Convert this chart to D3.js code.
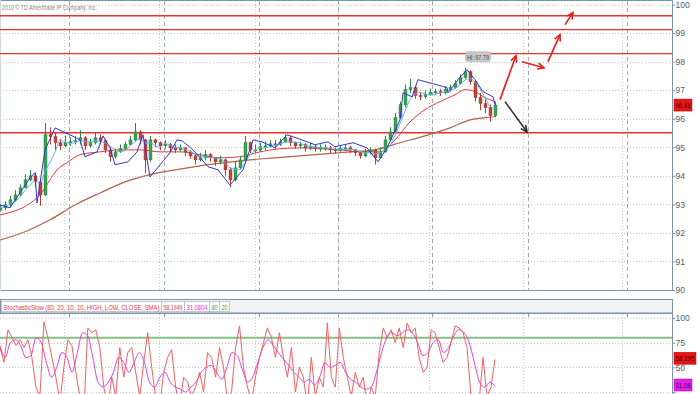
<!DOCTYPE html>
<html><head><meta charset="utf-8">
<script src="https://cdn.jsdelivr.net/npm/d3@7"></script>
<style>
body{margin:0;background:#fff}
svg{display:block}
text{font-family:"Liberation Sans Narrow","Liberation Sans",Arial,sans-serif}
</style>
</head><body>
<svg id="c" width="700" height="394"></svg>
<script>
// ---------- DATA ----------
const firstOpen = 92.8;
const closes = [
92.88,92.98,93.16,93.33,93.58,93.86,94.00,93.79,93.33,95.44,
95.37,95.16,95.05,95.16,95.19,95.23,95.33,95.05,95.16,95.33,
95.23,94.91,94.67,94.84,94.95,95.09,95.26,95.54,95.26,94.56,
95.26,95.16,95.05,95.09,94.98,94.91,94.98,94.84,94.70,94.56,
94.63,94.74,94.63,94.49,94.56,94.21,93.86,94.28,94.56,95.16,
94.91,94.91,95.02,95.05,95.12,95.09,95.19,95.33,95.16,95.05,
95.09,94.98,95.02,94.95,94.98,94.98,94.91,94.88,94.95,94.98,
94.91,94.81,94.70,94.84,94.91,94.63,94.84,95.26,95.54,96.04,
96.49,97.02,97.09,96.81,96.77,96.84,96.91,96.95,96.91,97.02,
97.09,97.23,97.44,97.65,97.30,96.74,96.53,96.39,96.11,96.48];
const highs = [
93.00,93.10,93.30,93.50,93.70,94.05,94.20,94.10,93.90,95.85,
95.70,95.50,95.30,95.40,95.35,95.40,95.60,95.40,95.30,95.50,
95.45,95.30,95.00,94.95,95.10,95.20,95.40,95.85,95.60,95.30,
95.40,95.30,95.20,95.25,95.15,95.10,95.10,95.00,94.90,94.75,
94.80,94.90,94.80,94.65,94.70,94.60,94.30,94.50,94.70,95.40,
95.20,95.10,95.15,95.20,95.25,95.25,95.30,95.45,95.40,95.20,
95.20,95.15,95.15,95.10,95.10,95.10,95.05,95.00,95.05,95.10,
95.05,94.95,94.85,94.95,95.00,94.95,95.00,95.40,95.70,96.20,
96.60,97.20,97.40,97.15,96.95,97.00,97.05,97.05,97.05,97.15,
97.20,97.35,97.55,97.79,97.70,97.35,96.90,96.70,96.50,96.60];
const lows = [
92.75,92.80,92.90,93.10,93.30,93.60,93.80,93.60,92.95,93.30,
95.10,94.90,94.90,95.00,95.05,95.10,95.10,94.90,95.00,95.10,
95.10,94.80,94.50,94.60,94.80,94.90,95.10,95.20,95.10,94.10,
94.50,95.00,94.90,94.95,94.85,94.80,94.85,94.70,94.60,94.40,
94.50,94.55,94.50,94.35,94.40,94.00,93.60,93.80,94.20,94.50,
94.80,94.80,94.85,94.90,95.00,94.95,95.05,95.15,95.05,94.95,
94.95,94.85,94.90,94.85,94.85,94.88,94.80,94.78,94.85,94.88,
94.80,94.70,94.60,94.65,94.75,94.40,94.60,94.80,95.20,95.50,
96.00,96.40,96.90,96.70,96.65,96.70,96.80,96.85,96.80,96.85,
96.95,97.05,97.20,97.40,97.20,96.60,96.30,96.20,95.90,96.05];
// moving averages: [bar, price]
const maRed = [[0,92.63],[7,93.17],[8,93.33],[10,93.86],[11.4,94.21],[13.4,94.46],[16,94.74],[20,94.84],[24,94.91],[28,94.91],[32,94.84],[36,94.84],[40,94.74],[44,94.63],[48,94.67],[52,94.84],[56,94.95],[60,94.98],[64,94.95],[68,94.91],[72,94.84],[76,94.84],[79,95.26],[82,95.89],[85,96.32],[88,96.60],[91,96.84],[93,97.02],[95,96.95],[97,96.74],[99,96.60]];
const maBrown = [[0,91.75],[5,92.04],[10,92.46],[15,92.98],[20,93.40],[25,93.79],[30,94.04],[35,94.21],[40,94.35],[45,94.46],[50,94.56],[55,94.63],[60,94.70],[65,94.77],[70,94.84],[75,94.91],[80,95.16],[85,95.40],[90,95.68],[94,95.96],[97,96.04],[99,96.07]];
const bandBlue = [[0,92.98],[2,92.88],[6,93.93],[7,94.11],[7.4,93.05],[9,94.91],[11,95.68],[14,95.44],[16,95.26],[17,94.67],[19.4,94.84],[20.6,95.40],[22,94.98],[23,94.39],[25.6,94.49],[27.4,94.84],[28.6,95.44],[30,93.96],[34,94.81],[35.4,95.26],[36.4,95.23],[38.6,94.91],[40.4,94.56],[41.6,94.32],[43.6,94.21],[46,93.68],[48.6,94.21],[50.6,95.26],[52.4,95.19],[55,94.98],[57.4,95.44],[60.4,95.26],[63,95.09],[65.6,95.19],[67,95.02],[70.6,95.16],[73.4,94.98],[75.6,94.49],[77.4,94.98],[80,95.96],[80.6,96.91],[82.4,96.77],[83.6,97.37],[89.4,97.09],[89.6,96.91],[91.6,97.37],[93.4,97.72],[95,97.37],[96.6,96.95],[98.6,96.77],[99,96.49]];
const levelLines = [99.61, 99.12, 98.28, 95.51];
const priceTicks = [90,91,92,93,94,95,96,97,98,99,100];
const stochTicks = [100,75,50,25];
const stochTickLabels = ["100","75","50",""];
const stochLevels = [80,20];
const stochK = [70,55,88,80,72,78,70,78,60,30,20,96,80,60,40,15,50,78,72,45,20,5,90,85,88,70,30,10,40,20,70,40,65,70,45,20,55,85,50,20,10,45,60,68,30,10,40,35,20,30,45,25,65,60,40,70,50,15,25,70,92,50,30,15,40,60,75,90,80,60,85,60,40,70,25,50,40,10,60,20,40,30,95,40,30,90,60,40,20,45,30,40,10,30,20,65,90,80,88,75,90,70,95,85,90,60,45,50,88,85,70,55,60,75,92,90,85,70,20,10,15,60,20,30,58];
const stochD = [72,60,75,78,72,60,62,80,75,55,40,50,65,60,45,65,85,82,60,35,30,35,45,60,55,45,55,65,55,35,30,40,45,35,30,28,25,30,35,45,50,52,45,38,50,65,62,48,35,40,55,70,78,72,65,58,52,45,40,35,38,32,40,55,50,52,55,45,38,35,30,28,30,45,65,80,85,82,85,88,85,75,62,65,75,78,65,70,82,88,85,75,55,35,30,35,31];
const gridDotted = [12.8,31.8,51,67.6,85.8,104.6,124.4];
const gridDashed = [13.8,32.8,51.8,67.6,86.4,105.6,125.4];
// annotation arrows: [[bar,price],[bar,price]]
const redArrows = [[[100,96.67],[103.2,98.21]],[[104.4,98.0],[108.8,97.79]],[[109.6,98.0],[112,98.95]],[[113,99.30],[114.6,99.72]]];
const blackArrows = [[[101,96.60],[105.4,95.54]]];
const lastK = "58.1949", lastD = "31.0804";
const headerText = "StochasticSlow (80, 20, 10, 10, HIGH, LOW, CLOSE, SMA)";
const copyright = "2010 \u00A9 TD Ameritrade IP Company, Inc.";

// ---------- DRAW ----------
const plotR = 672;
const svg = d3.select('#c');
const x = d3.scaleLinear().domain([0,134.4]).range([0,plotR]);
const y = d3.scaleLinear().domain([90,100]).range([290,4.6]);
const ys = d3.scaleLinear().domain([0,100]).range([416.7,318]);
const axisCol = '#7f93a8', gridCol = '#c3cad4', dashCol = '#a3abb6', lblCol = '#4d6079';

// text squeezed horizontally to a target width (anchor: 'start' | 'middle')
function fitText(parent, str, px, py, w, size, col, anchor){
  const t = parent.append('text').attr('x',0).attr('y',0).attr('font-size',size).attr('fill',col)
    .attr('text-anchor',anchor||'start').text(str);
  const n = t.node().getComputedTextLength();
  const k = Math.min(1, w/n);
  t.attr('transform',`translate(${px},${py}) scale(${k},1)`);
  return t;
}

const defs = svg.append('defs');
defs.append('clipPath').attr('id','cp').append('rect').attr('x',0).attr('y',1).attr('width',plotR).attr('height',289.5);
defs.append('clipPath').attr('id','cs').append('rect').attr('x',0).attr('y',314).attr('width',plotR).attr('height',80);

// price panel grid
const gP = svg.append('g');
gP.selectAll('.hg').data(priceTicks).join('line')
  .attr('x1',0).attr('x2',plotR).attr('y1',d=>Math.round(y(d))+0.5).attr('y2',d=>Math.round(y(d))+0.5)
  .attr('stroke',gridCol).attr('stroke-dasharray','1,2');
gP.selectAll('.vd').data(gridDotted).join('line')
  .attr('x1',d=>Math.round(x(d))+0.5).attr('x2',d=>Math.round(x(d))+0.5).attr('y1',1).attr('y2',290)
  .attr('stroke',gridCol).attr('stroke-dasharray','1,2');
gP.selectAll('.vh').data(gridDashed).join('line')
  .attr('x1',d=>Math.round(x(d))+0.5).attr('x2',d=>Math.round(x(d))+0.5).attr('y1',1).attr('y2',290)
  .attr('stroke',dashCol).attr('stroke-dasharray','4,3');

// frame
svg.append('line').attr('x1',0).attr('x2',plotR).attr('y1',0.5).attr('y2',0.5).attr('stroke',axisCol);
svg.append('line').attr('x1',0).attr('x2',plotR).attr('y1',290.5).attr('y2',290.5).attr('stroke',axisCol);
svg.append('line').attr('x1',0.5).attr('x2',0.5).attr('y1',0).attr('y2',291).attr('stroke','#d0d6de');
svg.append('line').attr('x1',plotR+0.5).attr('x2',plotR+0.5).attr('y1',0).attr('y2',291).attr('stroke',axisCol);

// right price axis
const ax = d3.axisRight(y).tickValues(priceTicks).tickSize(3).tickFormat(d3.format('d'));
const axG = svg.append('g').attr('transform',`translate(${plotR+0.5},0)`).call(ax);
axG.select('.domain').remove();
axG.selectAll('line').attr('stroke',axisCol);
axG.selectAll('text').attr('fill',lblCol).attr('font-size',8.5).attr('x',3);

fitText(svg, copyright, 2, 10, 95, 8, '#8a8a8a');

const gC = svg.append('g').attr('clip-path','url(#cp)');
// level lines
gC.selectAll('.lvl').data(levelLines).join('line')
  .attr('x1',0).attr('x2',plotR).attr('y1',d=>y(d)).attr('y2',d=>y(d))
  .attr('stroke','#e23232').attr('stroke-width',1.3);

gC.append('path').attr('d',d3.line().x(d=>x(d[0])).y(d=>y(d[1])).curve(d3.curveMonotoneX)(maBrown)).attr('fill','none').attr('stroke','#b0654a').attr('stroke-width',1.2);
gC.append('path').attr('d',d3.line().x(d=>x(d[0])).y(d=>y(d[1])).curve(d3.curveMonotoneX)(maRed)).attr('fill','none').attr('stroke','#e43c3c').attr('stroke-width',1);

// candles
const bars = closes.map((c,i)=>{
  const o = i===0 ? firstOpen : closes[i-1];
  return {i, o, c, h: Math.max(highs[i],o,c), l: Math.min(lows[i],o,c)};
});
const cg = gC.append('g');
cg.selectAll('.wk').data(bars).join('line')
  .attr('x1',d=>Math.round(x(d.i))+0.5).attr('x2',d=>Math.round(x(d.i))+0.5)
  .attr('y1',d=>y(d.h)).attr('y2',d=>y(d.l))
  .attr('stroke',d=>d.c>=d.o?'#2b8a3c':'#c0392b').attr('stroke-width',1);
cg.selectAll('.bd').data(bars).join('rect')
  .attr('x',d=>Math.round(x(d.i))-1).attr('width',3)
  .attr('y',d=>y(Math.max(d.o,d.c))).attr('height',d=>Math.max(1,Math.abs(y(d.o)-y(d.c))))
  .attr('fill',d=>d.c>=d.o?'#3aa550':'#c8453a').attr('stroke',d=>d.c>=d.o?'#1f6e2e':'#8e2a22').attr('stroke-width',0.4);

// short average of closes (light blue)
const sma = closes.map((c,i)=>[i, d3.mean(closes.slice(Math.max(0,i-3),i+1))]);
gC.append('path').attr('d',d3.line().x(d=>x(d[0])).y(d=>y(d[1])).curve(d3.curveMonotoneX)(sma)).attr('fill','none').attr('stroke','#58b8ea').attr('stroke-width',1);
// blue band
gC.append('path').attr('d',d3.line().x(d=>x(d[0])).y(d=>y(d[1]))(bandBlue)).attr('fill','none').attr('stroke','#3434d6').attr('stroke-width',1);

// arrows
function arrow(g,a,col){
  const x1=x(a[0][0]),y1=y(a[0][1]),x2=x(a[1][0]),y2=y(a[1][1]);
  const ang=Math.atan2(y2-y1,x2-x1), L=7, s=0.45;
  const p=[[x2-L*Math.cos(ang-s),y2-L*Math.sin(ang-s)],[x2,y2],[x2-L*Math.cos(ang+s),y2-L*Math.sin(ang+s)]];
  g.append('line').attr('x1',x1).attr('y1',y1).attr('x2',x2).attr('y2',y2).attr('stroke',col).attr('stroke-width',1.6);
  g.append('path').attr('d',d3.line()(p)).attr('fill','none').attr('stroke',col).attr('stroke-width',1.6);
}
const ga = svg.append('g').attr('clip-path','url(#cp)');
redArrows.forEach(a=>arrow(ga,a,'#e41e1e'));
blackArrows.forEach(a=>arrow(ga,a,'#2a2a2a'));

// Hi label
const hiIdx = d3.maxIndex(highs);
const hiX = x(hiIdx)+13, hiY = y(highs[hiIdx])-11;
svg.append('rect').attr('x',hiX-12.5).attr('y',hiY-5).attr('width',25).attr('height',10).attr('rx',2)
  .attr('fill','#c9c9c9').attr('stroke','#aaaaaa').attr('stroke-width',0.5);
fitText(svg, 'Hi: '+d3.max(highs).toFixed(2), hiX, hiY+3, 22, 7.5, '#444', 'middle');

// last price label
const lastC = closes[closes.length-1];
svg.append('rect').attr('x',plotR+2).attr('y',y(lastC)-6).attr('width',18).attr('height',12).attr('fill','#e81414').attr('stroke','#b00').attr('stroke-width',0.5);
fitText(svg, lastC.toFixed(2), plotR+11, y(lastC)+3, 15, 7.5, '#5a0000', 'middle');

// ---------- stochastic header ----------
svg.append('rect').attr('x',0.5).attr('y',299.5).attr('width',plotR).attr('height',13.5).attr('fill','#f2f2f2').attr('stroke',axisCol);
const segs = [
  {t:headerText, x0:1, x1:161, c:'#e04040'},
  {t:lastK, x0:161, x1:184, c:'#e04040'},
  {t:lastD, x0:184, x1:209, c:'#e030e0'},
  {t:String(stochLevels[0]), x0:209, x1:219, c:'#3c9a3c'},
  {t:String(stochLevels[1]), x0:219, x1:229, c:'#3c9a3c'}
];
segs.forEach(s=>{
  svg.append('rect').attr('x',s.x0+0.5).attr('y',301.5).attr('width',s.x1-s.x0).attr('height',10).attr('fill','#fff').attr('stroke','#a9b6c5').attr('stroke-width',0.7);
  fitText(svg, s.t, (s.x0+s.x1)/2+0.5, 309.5, s.x1-s.x0-4, 7.5, s.c, 'middle');
});

// stochastic panel
svg.append('line').attr('x1',0).attr('x2',plotR).attr('y1',313.5).attr('y2',313.5).attr('stroke',axisCol);
svg.append('line').attr('x1',plotR+0.5).attr('x2',plotR+0.5).attr('y1',313).attr('y2',394).attr('stroke',axisCol);
svg.selectAll('.tk').data(gridDashed).join('line')
  .attr('x1',d=>Math.round(x(d))+0.5).attr('x2',d=>Math.round(x(d))+0.5).attr('y1',313).attr('y2',317).attr('stroke',axisCol);
const gS = svg.append('g').attr('clip-path','url(#cs)');
gS.selectAll('.sh').data(stochTicks).join('line')
  .attr('x1',0).attr('x2',plotR).attr('y1',d=>Math.round(ys(d))+0.5).attr('y2',d=>Math.round(ys(d))+0.5)
  .attr('stroke',gridCol).attr('stroke-dasharray','1,2');
gS.selectAll('.sv').data(gridDotted).join('line')
  .attr('x1',d=>Math.round(x(d))+0.5).attr('x2',d=>Math.round(x(d))+0.5).attr('y1',314).attr('y2',394)
  .attr('stroke',gridCol).attr('stroke-dasharray','1,2');
gS.selectAll('.lv').data(stochLevels).join('line')
  .attr('x1',0).attr('x2',plotR).attr('y1',d=>ys(d)).attr('y2',d=>ys(d)).attr('stroke','#86c086').attr('stroke-width',2);
const xk = d3.scaleLinear().domain([0,stochK.length-1]).range([x(0),x(closes.length-1)]);
const xd = d3.scaleLinear().domain([0,stochD.length-1]).range([x(0),x(closes.length-1)]);
gS.append('path').attr('d',d3.line().x((d,i)=>xd(i)).y(d=>ys(d)).curve(d3.curveMonotoneX)(stochD)).attr('fill','none').attr('stroke','#e040e0').attr('stroke-width',1);
gS.append('path').attr('d',d3.line().x((d,i)=>xk(i)).y(d=>ys(d))(stochK)).attr('fill','none').attr('stroke','#ef6262').attr('stroke-width',1);

const axS = d3.axisRight(ys).tickValues(stochTicks).tickSize(3).tickFormat((d,i)=>stochTickLabels[i]);
const asG = svg.append('g').attr('transform',`translate(${plotR+0.5},0)`).call(axS);
asG.select('.domain').remove();
asG.selectAll('line').attr('stroke',axisCol);
asG.selectAll('text').attr('fill',lblCol).attr('font-size',8.5).attr('x',3);

// last stoch labels
svg.append('rect').attr('x',plotR+2).attr('y',ys(+lastK)-7).attr('width',22).attr('height',12).attr('fill','#e81414').attr('stroke','#b00').attr('stroke-width',0.5);
fitText(svg, (+lastK).toFixed(3), plotR+13, ys(+lastK)+2, 19, 7.5, '#5a0000', 'middle');
svg.append('rect').attr('x',plotR+2).attr('y',ys(+lastD)-7).attr('width',18).attr('height',12).attr('fill','#e81ee8').attr('stroke','#a0a').attr('stroke-width',0.5);
fitText(svg, (+lastD).toFixed(2), plotR+11, ys(+lastD)+2, 15, 7.5, '#3a003a', 'middle');
</script>
</body></html>
